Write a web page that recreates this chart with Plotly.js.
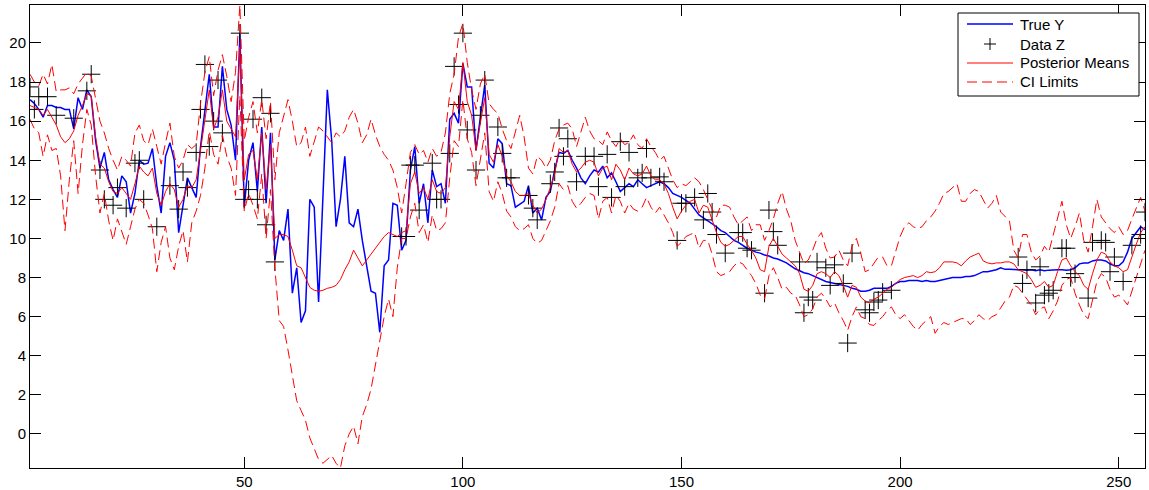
<!DOCTYPE html>
<html>
<head>
<meta charset="utf-8">
<script src="https://cdn.plot.ly/plotly-3.0.1.min.js"></script>
<style>html,body{margin:0;padding:0;background:#fff;}#chart{width:1149px;height:490px;}</style>
</head>
<body>
<div id="chart"></div>
<script>
// True Y, index 1..256
const trueY = [
17.1,16.9,16.6,16.2,16.8,16.8,16.7,16.7,16.6,16.6,
15.6,17.2,16.6,17.6,17.25,15.0,13.6,14.4,13.0,12.5,
12.1,13.2,12.9,11.3,12.3,14.0,13.8,13.85,14.6,12.7,
11.3,14.2,14.9,14.0,10.3,11.6,13.1,12.6,12.1,14.7,
16.5,18.4,15.7,15.7,18.8,16.6,15.8,14.0,20.5,11.6,
14.0,14.9,12.4,15.7,11.8,15.4,8.9,10.4,9.9,11.5,
7.2,8.5,5.7,6.3,12.0,11.6,6.75,12.0,17.6,15.0,
10.6,12.0,14.2,10.8,10.6,11.5,9.9,8.6,7.3,7.2,
5.2,8.6,8.9,11.8,11.7,9.4,9.9,13.5,14.7,11.8,
12.8,10.8,13.5,12.65,12.8,11.8,16.1,16.4,15.9,18.95,
17.75,17.75,14.5,16.2,17.85,13.85,13.6,15.1,14.85,12.8,
12.7,11.6,11.75,11.9,12.7,11.3,11.55,10.95,12.1,12.4,
13.5,14.4,14.35,14.5,14.0,13.6,13.1,12.8,13.2,13.5,
13.4,13.7,13.1,13.35,12.9,12.4,12.6,12.8,12.65,13.0,
12.8,12.6,12.7,12.8,12.9,12.8,12.6,12.3,12.2,12.1,
11.95,11.8,11.5,11.2,11.05,10.9,10.75,10.6,10.4,10.3,
10.1,9.9,9.8,9.65,9.5,9.4,9.3,9.25,9.15,9.1,
9.0,8.95,8.85,8.75,8.6,8.45,8.35,8.25,8.2,8.1,
8.0,7.9,7.8,7.75,7.7,7.65,7.6,7.55,7.45,7.4,
7.3,7.3,7.35,7.45,7.45,7.45,7.45,7.55,7.7,7.8,
7.8,7.85,7.85,7.85,7.8,7.85,7.8,7.8,7.85,7.9,
7.95,8.0,8.0,8.0,8.05,8.05,8.1,8.2,8.3,8.3,
8.35,8.4,8.5,8.42,8.42,8.4,8.4,8.4,8.38,8.4,
8.35,8.4,8.35,8.38,8.4,8.4,8.4,8.38,8.4,8.5,
8.7,8.75,8.75,8.85,8.9,8.9,8.85,8.7,8.6,8.6,
8.8,9.3,10.0,10.3,10.6,10.45
];

// Posterior means, index 1..256
const postMean = [
16.8,16.7,16.6,16.3,16.6,16.2,15.8,15.2,14.9,15.1,
15.5,16.3,16.8,17.4,17.3,15.2,13.8,13.6,12.9,12.4,
12.3,12.6,12.3,12.0,12.8,13.7,13.4,13.2,13.6,12.3,
11.7,12.4,12.8,12.5,11.6,12.0,12.7,12.6,13.0,14.6,
16.2,17.6,15.6,16.2,17.6,16.0,15.6,15.2,19.8,13.0,
14.3,14.5,13.0,15.4,12.5,14.8,10.0,10.2,10.2,10.1,
9.4,8.6,8.5,8.0,7.5,7.35,7.3,7.35,7.45,7.5,
7.6,7.9,8.4,8.8,9.4,9.0,8.6,8.9,9.2,9.5,
9.8,10.1,10.3,10.2,10.1,10.3,10.4,12.8,13.4,12.3,
12.6,12.0,13.0,12.4,12.3,12.6,15.2,17.0,16.6,19.0,
17.0,16.3,14.5,15.9,17.2,14.3,13.9,14.8,14.2,13.2,
12.9,12.4,12.2,12.2,12.3,11.7,11.3,11.5,12.0,12.6,
13.3,14.6,14.4,14.5,13.8,13.4,13.6,13.9,14.0,13.9,
13.2,13.6,13.7,13.0,13.8,13.5,13.0,13.6,13.3,13.2,
13.3,13.7,13.2,13.0,13.0,12.8,12.3,11.6,11.0,11.4,
11.7,11.9,12.0,11.3,11.7,11.6,10.9,10.3,9.8,9.6,
9.7,9.9,10.1,10.1,9.7,9.4,9.0,8.4,8.3,9.6,
10.0,9.6,9.2,9.0,8.8,8.6,8.2,7.4,7.3,7.6,
8.2,8.3,8.2,8.0,8.3,8.1,7.6,7.0,7.6,7.5,
7.0,6.8,6.7,6.9,7.0,7.2,7.4,7.5,7.7,7.9,
8.0,8.05,8.1,8.0,8.1,8.3,8.25,8.3,8.5,8.8,
8.8,8.8,8.75,8.6,8.85,9.05,9.15,9.25,8.85,8.75,
8.7,8.75,8.75,8.8,8.8,8.7,8.4,8.3,8.2,7.9,
7.5,7.6,7.8,7.5,7.6,8.3,8.9,9.0,8.6,8.3,
8.1,7.6,7.4,8.2,8.9,9.3,9.2,8.8,8.6,8.5,
8.3,8.4,9.1,9.7,10.3,10.6
];

// Upper credible limit, index 1..256
const ciUpper = [
18.4,18.0,17.8,18.4,17.9,18.9,17.5,17.6,17.6,17.7,
17.4,17.9,18.2,18.5,18.3,17.2,16.0,15.4,14.6,14.0,
13.5,14.2,14.0,13.7,15.4,15.8,15.0,14.8,15.6,14.7,
13.8,14.9,15.9,14.2,13.6,14.0,14.8,14.6,14.8,16.9,
18.5,19.3,17.3,18.6,19.4,18.3,17.0,18.5,21.94,15.0,
16.2,17.0,15.4,17.1,15.1,17.0,13.0,15.4,16.3,17.1,
16.0,14.7,14.9,15.7,14.2,14.9,15.7,15.5,15.2,14.9,
15.4,15.2,15.5,16.2,16.6,15.9,14.9,15.3,16.1,15.3,
14.7,14.3,14.0,13.5,12.6,11.3,12.8,14.4,14.8,14.3,
14.5,13.9,14.6,14.2,14.4,15.4,17.4,18.4,20.3,21.0,
19.0,17.6,16.6,17.9,18.4,16.9,16.6,16.4,15.6,15.0,
14.6,15.4,16.3,15.2,13.6,13.3,14.2,14.0,13.6,14.0,
15.0,15.6,15.8,15.9,15.6,14.7,15.4,16.2,15.5,15.1,
15.0,14.8,15.45,15.0,14.7,15.1,14.8,14.9,15.3,14.8,
14.6,15.1,14.7,14.4,14.0,14.2,13.6,13.0,12.6,12.8,
12.7,12.9,13.1,12.9,12.5,12.0,11.5,11.1,11.7,11.7,
11.6,11.1,10.7,10.9,11.1,10.4,10.7,10.7,9.9,10.4,
11.0,11.8,12.4,11.5,10.9,9.9,9.25,8.7,8.9,9.4,
10.0,10.3,9.5,9.0,9.05,9.4,8.9,8.6,9.6,10.0,
9.25,8.3,8.4,8.7,9.05,9.05,8.6,8.6,9.4,10.1,
10.6,10.8,10.6,10.5,10.6,10.9,11.1,11.4,11.8,12.3,
12.4,12.6,12.8,11.9,11.9,12.3,12.5,12.4,12.0,11.55,
11.8,12.2,11.35,11.1,10.9,9.4,9.0,10.2,10.2,9.3,
8.9,9.1,9.6,9.3,10.2,11.1,11.9,10.7,10.0,10.6,
11.3,9.9,9.3,10.6,12.0,11.1,10.8,10.5,10.3,10.6,
10.2,10.4,11.0,11.6,12.1,11.4
];

// Lower credible limit, index 1..256
const ciLower = [
16.1,15.6,15.4,14.2,15.3,14.5,14.6,13.2,10.4,13.0,
15.0,12.3,14.8,16.6,15.8,13.2,11.3,12.3,10.9,9.9,
11.0,10.3,9.7,10.6,11.5,12.0,11.8,11.2,10.5,8.3,
9.8,10.6,9.0,8.4,9.6,10.4,8.8,10.8,11.4,12.2,
13.6,15.5,14.3,13.8,15.3,14.2,13.6,12.2,17.3,11.4,
12.3,11.7,11.0,13.3,10.0,12.5,8.5,5.8,5.5,4.3,
3.0,1.7,1.2,0.7,-0.2,-0.8,-1.3,-1.5,-1.3,-1.1,
-1.5,-1.74,-0.6,0.0,0.4,-0.5,0.9,1.5,2.3,3.5,
4.7,6.0,6.9,6.0,8.5,10.0,10.0,11.1,11.8,10.3,
10.7,9.8,11.2,10.4,10.5,10.8,13.1,15.0,14.7,17.1,
15.1,14.4,12.7,14.0,15.4,12.4,11.9,12.9,12.3,11.4,
11.1,10.6,10.4,10.5,10.7,10.0,9.75,9.9,10.4,10.9,
11.6,12.8,12.5,12.7,11.9,11.55,11.8,12.1,12.3,12.2,
11.0,11.9,12.1,11.3,12.2,11.9,11.3,11.8,11.5,11.4,
11.6,12.1,11.6,11.3,11.6,11.2,10.8,10.3,9.6,9.8,
10.1,10.2,10.3,9.5,9.9,9.9,9.2,8.3,8.1,8.2,
8.3,8.6,8.8,8.7,8.4,8.1,7.7,7.1,6.9,8.1,
8.5,8.0,7.4,7.5,7.2,7.1,6.6,6.0,6.1,6.4,
7.0,7.2,6.9,6.5,6.7,6.2,5.8,5.3,6.0,6.5,
6.0,5.9,5.6,5.55,5.8,6.0,6.3,6.5,6.1,5.9,
6.1,5.8,5.5,5.3,5.6,5.8,6.0,5.15,5.5,5.7,
5.6,5.7,5.8,5.9,5.9,5.6,5.8,6.1,5.9,5.8,
6.0,6.1,6.45,6.8,7.0,7.6,7.5,7.2,6.9,6.6,
6.1,6.4,6.5,5.9,6.3,6.8,7.6,7.9,8.0,7.2,
6.6,6.1,5.9,6.8,7.8,8.2,8.0,7.4,7.0,7.1,
6.9,6.6,7.3,8.1,8.8,9.4
];

// Observed data Z: indices and values
const dataZx = [
1,2,3,5,7,11,14,15,17,18,20,21,23,25,26,27,30,33,35,36,37,39,40,41,42,43,44,45,49,50,51,52,53,54,55,56,57,
86,87,88,89,90,93,94,95,97,98,99,100,101,103,104,105,108,109,110,111,115,116,117,120,121,122,123,124,126,128,130,131,133,134,136,137,138,140,141,142,143,145,146,149,150,151,153,155,156,157,158,160,163,164,165,166,169,170,171,172,177,178,179,180,181,183,184,185,187,188,189,192,193,194,195,196,198,
227,228,229,231,232,233,234,235,237,238,239,240,243,244,246,247,248,249,251,253,255,256
];
const dataZ = [
17.75,16.6,17.25,17.25,16.3,16.15,17.55,18.4,13.5,12.0,11.7,12.6,11.55,13.85,14.0,12.0,10.6,12.7,11.5,13.4,12.6,14.4,16.6,18.9,14.7,16.0,18.1,15.4,20.5,12.0,12.5,16.1,12.0,17.2,10.7,16.4,8.8,
10.1,10.1,13.75,13.75,11.45,13.85,12.0,12.0,14.35,18.8,16.85,20.5,15.55,13.5,16.3,18.1,15.7,14.35,13.1,13.1,12.2,11.55,10.95,12.8,13.4,15.65,14.2,15.1,12.9,14.2,14.2,12.65,14.3,12.1,14.95,12.65,14.4,13.1,13.35,14.6,13.1,13.15,12.9,9.9,11.8,11.8,12.1,10.95,12.3,11.35,10.2,9.25,10.3,10.3,9.5,9.4,7.2,11.45,10.35,9.65,8.8,6.2,7.0,6.85,8.8,8.5,7.6,8.65,7.7,4.65,9.25,6.35,6.2,6.75,6.85,7.25,7.35,
9.05,7.7,8.4,6.7,8.55,7.1,7.2,7.35,9.5,9.5,8.0,8.2,6.95,9.8,9.9,9.8,8.3,9.05,7.8,9.65,10.2,11.35
];

// Legend labels
const legendLabels = ['True Y', 'Data Z', 'Posterior Means', 'CI Limits'];

const idx = trueY.map((_, i) => i + 1);

const blueLine = {color: '#0000ff', width: 1.5};
const meanLine = {color: '#ff0000', width: 1};
const ciLine = {color: '#ff0000', width: 1, dash: '10px,5px'};

const traces = [
  {x: idx, y: trueY, type: 'scatter', mode: 'lines', name: legendLabels[0], line: blueLine, showlegend: false},
  {x: dataZx, y: dataZ, type: 'scatter', mode: 'markers', name: legendLabels[1], showlegend: false,
   marker: {symbol: 'cross-thin-open', size: 13, color: '#000', line: {color: '#000', width: 1}}},
  {x: idx, y: postMean, type: 'scatter', mode: 'lines', name: legendLabels[2], line: meanLine, showlegend: false},
  {x: idx, y: ciUpper, type: 'scatter', mode: 'lines', name: legendLabels[3], line: ciLine, showlegend: false},
  {x: idx, y: ciLower, type: 'scatter', mode: 'lines', name: legendLabels[3], line: ciLine, showlegend: false}
];

// plot area in pixels: left 30, right 1145, top 5, bottom 468
const PL = 30, PR = 1145, PT = 5, PB = 468;
const px = v => (v - PL) / (PR - PL);
const py = v => (PB - v) / (PB - PT);

const rowsY = [24, 44, 63, 82];
const shapes = [
  {type: 'rect', xref: 'paper', yref: 'paper', x0: px(958), x1: px(1139), y0: py(96), y1: py(13),
   line: {color: '#000', width: 1}, fillcolor: '#fff', layer: 'above'},
  {type: 'line', xref: 'paper', yref: 'paper', x0: px(967), x1: px(1013), y0: py(rowsY[0]), y1: py(rowsY[0]), line: blueLine, layer: 'above'},
  {type: 'line', xref: 'paper', yref: 'paper', x0: px(984), x1: px(996), y0: py(rowsY[1]), y1: py(rowsY[1]), line: {color: '#000', width: 1}, layer: 'above'},
  {type: 'line', xref: 'paper', yref: 'paper', x0: px(990), x1: px(990), y0: py(rowsY[1] - 6), y1: py(rowsY[1] + 6), line: {color: '#000', width: 1}, layer: 'above'},
  {type: 'line', xref: 'paper', yref: 'paper', x0: px(967), x1: px(1013), y0: py(rowsY[2]), y1: py(rowsY[2]), line: meanLine, layer: 'above'},
  {type: 'line', xref: 'paper', yref: 'paper', x0: px(967), x1: px(1013), y0: py(rowsY[3]), y1: py(rowsY[3]), line: ciLine, layer: 'above'}
];

const annotations = legendLabels.map((t, i) => ({
  text: t, xref: 'paper', yref: 'paper', x: px(1018), y: py(rowsY[i]),
  xanchor: 'left', yanchor: 'middle', showarrow: false,
  font: {family: 'Liberation Sans, Arial, sans-serif', size: 15, color: '#000'}
}));

const axisCommon = {
  showline: true, linecolor: '#000', linewidth: 1, mirror: 'ticks',
  ticks: 'inside', ticklen: 11, tickwidth: 1, tickcolor: '#000',
  showgrid: false, zeroline: false,
  tickfont: {family: 'Liberation Sans, Arial, sans-serif', size: 15, color: '#000'}
};

const layout = {
  width: 1149, height: 490,
  margin: {l: PL, r: 1149 - PR, t: PT, b: 490 - PB},
  paper_bgcolor: '#fff', plot_bgcolor: '#fff',
  showlegend: false,
  xaxis: Object.assign({}, axisCommon, {range: [1, 256], tickvals: [50, 100, 150, 200, 250]}),
  yaxis: Object.assign({}, axisCommon, {range: [-1.74, 21.94], tickvals: [0,2,4,6,8,10,12,14,16,18,20]}),
  shapes: shapes,
  annotations: annotations
};

Plotly.newPlot('chart', traces, layout, {displayModeBar: false, staticPlot: true});
</script>
</body>
</html>
